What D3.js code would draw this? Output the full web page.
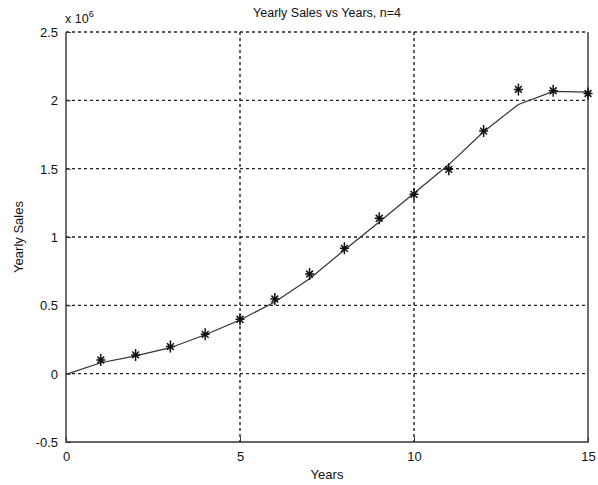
<!DOCTYPE html>
<html><head><meta charset="utf-8">
<script src="https://cdn.jsdelivr.net/npm/d3@7"></script>
<style>body{margin:0;background:#fff}svg{display:block}text{font-family:"Liberation Sans",Arial,sans-serif;fill:#111}</style>
</head><body><svg id="c" width="598" height="485"></svg>
<script>
const years = [1,2,3,4,5,6,7,8,9,10,11,12,13,14,15];
const sales = [0.10,0.137,0.198,0.288,0.398,0.546,0.729,0.917,1.137,1.312,1.495,1.775,2.08,2.07,2.05];
const fitYears = [0,1,2,3,4,5,6,7,8,9,10,11,12,13,14,15];
const fitSales = [-0.005,0.08,0.13,0.19,0.285,0.393,0.525,0.695,0.905,1.11,1.32,1.53,1.77,1.97,2.065,2.06];
const xTicks = [0,5,10,15];
const yTicks = [-0.5,0,0.5,1,1.5,2,2.5];
const title = "Yearly Sales vs Years, n=4";

const svg = d3.select("#c");
const L=66, R=588, T=32, B=442;
const x = d3.scaleLinear().domain([0,15]).range([L,R]);
const y = d3.scaleLinear().domain([-0.5,2.5]).range([B,T]);

// grid
const g = svg.append("g");
g.selectAll(".gx").data(xTicks.slice(1,-1)).join("line")
  .attr("x1",d=>x(d)).attr("x2",d=>x(d)).attr("y1",T).attr("y2",B)
  .attr("stroke","#222").attr("stroke-width",1.4).attr("stroke-dasharray","3,3");
g.selectAll(".gy").data(yTicks.slice(1)).join("line")
  .attr("x1",L).attr("x2",R).attr("y1",d=>y(d)).attr("y2",d=>y(d))
  .attr("stroke","#222").attr("stroke-width",1.4).attr("stroke-dasharray","3,3");

// axes box (left, bottom, right solid)
svg.append("path").attr("d",`M${L},${T}V${B}H${R}V${T}`).attr("fill","none").attr("stroke","#333").attr("stroke-width",1.4);

const xAxis = d3.axisBottom(x).tickValues(xTicks).tickSize(-5).tickPadding(10).tickFormat(d3.format("d"));
const ax = svg.append("g").attr("transform",`translate(0,${B})`).call(xAxis);
const yAxis = d3.axisLeft(y).tickValues(yTicks).tickSize(-5).tickPadding(8).tickFormat(d=>d===0?"0":String(d));
const ay = svg.append("g").attr("transform",`translate(${L},0)`).call(yAxis);
[ax,ay].forEach(a=>{a.select(".domain").remove();a.selectAll(".tick line").attr("stroke","#333");
  a.selectAll("text").style("font-family","Liberation Sans, Arial, sans-serif").style("font-size","13px").attr("fill","#222");});
ay.selectAll("text").attr("dy","0.35em");

// fitted curve
svg.append("path").datum(fitYears.map((d,i)=>[d,fitSales[i]]))
  .attr("d",d3.line().x(d=>x(d[0])).y(d=>y(d[1])))
  .attr("fill","none").attr("stroke","#333").attr("stroke-width",1.2);

// asterisk markers
const rh=4.5, rv=6, rd=3.4;
svg.selectAll(".m").data(years).join("path")
  .attr("transform",(d,i)=>`translate(${x(d)},${y(sales[i])})`)
  .attr("d",`M${-rh},0H${rh}M0,${-rv}V${rv}M${-rd},${-rd}L${rd},${rd}M${-rd},${rd}L${rd},${-rd}`)
  .attr("stroke","#111").attr("stroke-width",1.5).attr("fill","none");

// texts
svg.append("text").attr("x",(L+R)/2).attr("y",17).attr("text-anchor","middle").style("font-size","12.5px").text(title);
svg.append("text").attr("x",L-1).attr("y",23).style("font-size","12.5px").text("x 10").append("tspan").attr("dy",-6).style("font-size","9px").text("6");
svg.append("text").attr("x",(L+R)/2).attr("y",479).attr("text-anchor","middle").style("font-size","13px").text("Years");
svg.append("text").attr("transform",`translate(23,${(T+B)/2}) rotate(-90)`).attr("text-anchor","middle").style("font-size","13px").text("Yearly Sales");
</script></body></html>
